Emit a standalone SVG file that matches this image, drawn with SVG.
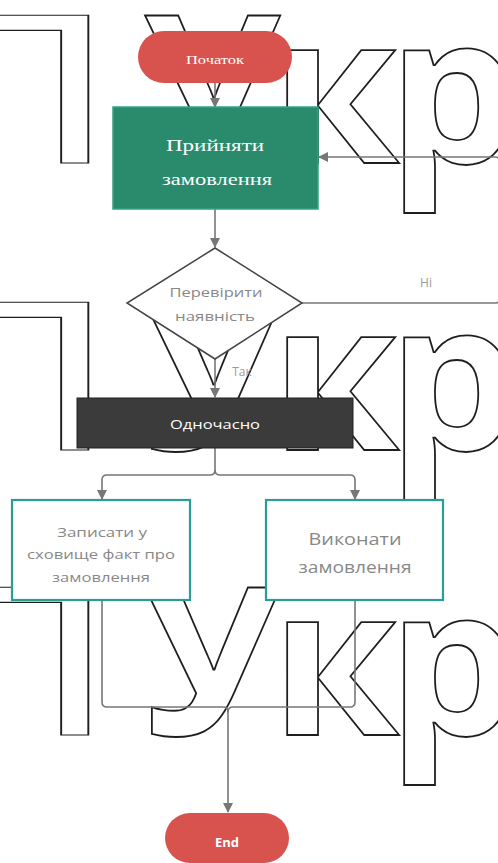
<svg xmlns="http://www.w3.org/2000/svg" width="498" height="863" viewBox="0 0 498 863">
<defs>
<style>
.wm{font-family:"Open Sans","DejaVu Sans",sans-serif;font-size:207px;font-weight:700;fill:none;stroke:#1e1e1e;stroke-width:1.8}
.wp{font-family:"Open Sans","DejaVu Sans",sans-serif;font-size:207px;font-weight:500;fill:none;stroke:#1e1e1e;stroke-width:1.2}
.cn{fill:none;stroke:#777;stroke-width:1.6}
.lbl{font-family:"Open Sans","Liberation Sans",sans-serif;font-size:12px;fill:#999;text-anchor:middle}
.gt{font-family:"Open Sans","Liberation Sans",sans-serif;fill:#888;text-anchor:middle}
.wt{font-family:"Open Sans","Liberation Sans",sans-serif;fill:#fff;text-anchor:middle}
.sf{font-family:"Liberation Serif","DejaVu Serif",serif;fill:#fff;text-anchor:middle}
.box{fill:#fff;stroke:#2a9d94;stroke-width:2.2}
</style>
<marker id="ah2" viewBox="0 0 10 10" refX="9" refY="5" markerWidth="10" markerHeight="10" orient="auto" markerUnits="userSpaceOnUse">
<path d="M0,0 L10,5 L0,10 Z" fill="#777"/>
</marker>
</defs>
<rect width="498" height="863" fill="#fff"/>
<g id="watermark">
<text class="wp" transform="translate(121,163) scale(1.6,1)" text-anchor="end">П</text>
<text class="wm" x="143 271 388" y="163">Укр</text>
<text class="wp" transform="translate(121,450) scale(1.6,1)" text-anchor="end">П</text>
<text class="wm" x="143 271 388" y="450">Укр</text>
<text class="wp" transform="translate(121,735) scale(1.6,1)" text-anchor="end">П</text>
<text class="wm" x="143 271 388" y="735">Укр</text>
</g>
<g id="connectors">
<path class="cn" d="M215,83 V107" marker-end="url(#ah2)"/>
<path class="cn" d="M215,209 V247" marker-end="url(#ah2)"/>
<path class="cn" d="M215,358 V397" marker-end="url(#ah2)"/>
<path class="cn" d="M302,303 H495 Q500,303 500,298 V162 Q500,157 495,157 H319" marker-end="url(#ah2)"/>
<path class="cn" d="M215,448 V470 Q215,475 210,475 H107 Q102,475 102,480 V499" marker-end="url(#ah2)"/>
<path class="cn" d="M215,470 Q215,475 220,475 H350 Q355,475 355,480 V499" marker-end="url(#ah2)"/>
<path class="cn" d="M102,600 V702 Q102,707 107,707 H223 Q228,707 228,712 V812" marker-end="url(#ah2)"/>
<path class="cn" d="M355,600 V702 Q355,707 350,707 H233 Q228,707 228,712"/>
<text class="lbl" x="426" y="287">Ні</text>
<text class="lbl" x="242" y="376">Так</text>
</g>
<g id="start">
<rect x="138" y="31" width="154" height="52" rx="26" fill="#d8534e"/>
<text class="sf" x="215" y="64" font-size="12" textLength="58" lengthAdjust="spacingAndGlyphs">Початок</text>
</g>
<g id="accept">
<rect x="113" y="107" width="205" height="102" fill="#2a8a6c" stroke="#36a384" stroke-width="1.5"/>
<text class="sf" x="215" y="151" font-size="17" textLength="98" lengthAdjust="spacingAndGlyphs">Прийняти</text>
<text class="sf" x="217" y="185" font-size="16" textLength="110" lengthAdjust="spacingAndGlyphs">замовлення</text>
</g>
<g id="check">
<polygon points="215,248 302,303 215,359 127,303" fill="#fff" stroke="#444" stroke-width="1.5"/>
<text class="gt" x="216" y="297" font-size="13" fill="#999" textLength="93" lengthAdjust="spacingAndGlyphs">Перевірити</text>
<text class="gt" x="215" y="321" font-size="13" textLength="80" lengthAdjust="spacingAndGlyphs">наявність</text>
</g>
<g id="parallel">
<rect x="77" y="398" width="276" height="50" fill="#3b3b3b" stroke="#222" stroke-width="1"/>
<text class="wt" x="215" y="429" font-size="13" textLength="90" lengthAdjust="spacingAndGlyphs">Одночасно</text>
</g>
<g id="record">
<rect class="box" x="12" y="500" width="178" height="100"/>
<text class="gt" x="102" y="537" font-size="12.5" textLength="90" lengthAdjust="spacingAndGlyphs">Записати у</text>
<text class="gt" x="101" y="559" font-size="12.5" textLength="148" lengthAdjust="spacingAndGlyphs">сховище факт про</text>
<text class="gt" x="101" y="582" font-size="12.5" textLength="98" lengthAdjust="spacingAndGlyphs">замовлення</text>
</g>
<g id="execute">
<rect class="box" x="266" y="500" width="177" height="100"/>
<text class="gt" x="355" y="545" font-size="17" fill="#777" textLength="93" lengthAdjust="spacingAndGlyphs">Виконати</text>
<text class="gt" x="355" y="573" font-size="17" fill="#777" textLength="113" lengthAdjust="spacingAndGlyphs">замовлення</text>
</g>
<g id="end">
<rect x="165" y="813" width="124" height="50" rx="25" fill="#d8534e"/>
<text class="wt" x="227" y="847" font-size="13" font-weight="700">End</text>
</g>
</svg>
